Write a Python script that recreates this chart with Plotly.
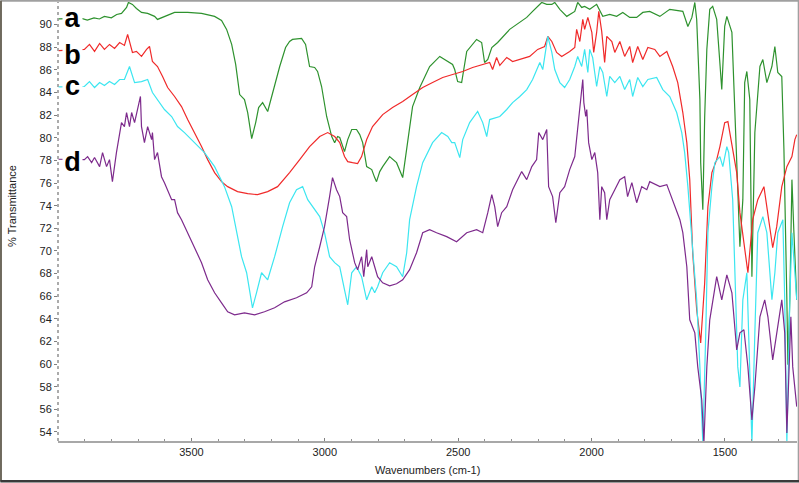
import plotly.graph_objects as go

# FT-IR spectra, (wavenumber cm-1, %T) pairs
spec_a = [(3998, 90.5), (3912, 90.55), (3890, 90.4), (3865, 90.6), (3845, 90.5), (3826, 90.73), (3800, 90.6),
          (3780, 90.9), (3762, 90.99), (3743, 91.52), (3736, 91.96), (3721, 91.79), (3706, 91.43), (3687, 91.08),
          (3664, 90.99), (3638, 90.73), (3627, 90.46), (3601, 90.73), (3563, 91.08), (3514, 91.08), (3462, 90.99),
          (3413, 90.73), (3387, 90.37), (3368, 89.58), (3349, 88.25), (3334, 86.48), (3319, 83.82), (3301, 83.38),
          (3289, 82.23), (3274, 79.93), (3259, 81.34), (3248, 82.67), (3233, 83.11), (3214, 82.32), (3188, 84.71),
          (3169, 86.30), (3147, 87.98), (3132, 88.51), (3121, 88.69), (3087, 88.78), (3072, 88.25), (3057, 86.30),
          (3038, 86.21), (3027, 85.86), (3012, 84.53), (2993, 81.88), (2974, 80.11), (2963, 79.57), (2952, 80.11),
          (2944, 80.02), (2926, 78.78), (2914, 79.84), (2899, 80.73), (2881, 80.73), (2869, 80.28), (2858, 79.57),
          (2843, 77.45), (2824, 77.19), (2813, 76.48), (2806, 76.12), (2794, 77.01), (2783, 77.45), (2757, 78.34),
          (2731, 77.80), (2708, 76.48), (2693, 78.96), (2671, 82.76), (2644, 84.44), (2607, 86.30), (2569, 87.19),
          (2539, 86.74), (2521, 86.48), (2513, 86.03), (2502, 84.97), (2487, 84.88), (2468, 87.63), (2431, 88.69),
          (2412, 88.42), (2401, 86.65), (2389, 86.92), (2374, 87.98), (2352, 88.42), (2307, 89.58), (2269, 90.19),
          (2243, 90.64), (2221, 91.17), (2202, 91.61), (2187, 91.96), (2168, 91.79), (2149, 91.79), (2138, 91.96),
          (2119, 91.35), (2093, 90.73), (2063, 91.17), (2052, 91.96), (2037, 91.52), (2026, 91.61), (2007, 91.35),
          (1981, 91.79), (1969, 91.17), (1958, 90.73), (1932, 90.90), (1906, 90.73), (1883, 91.08), (1857, 90.64),
          (1831, 90.64), (1808, 91.08), (1782, 91.17), (1744, 90.73), (1707, 91.35), (1658, 91.17), (1639, 89.84),
          (1624, 90.64), (1613, 91.96), (1606, 90.46), (1594, 83.38), (1591, 77.80), (1583, 73.65), (1576, 81.88),
          (1568, 87.81), (1557, 91.35), (1546, 91.61), (1531, 90.46), (1520, 86.92), (1512, 84.26), (1501, 89.84),
          (1493, 90.73), (1474, 89.31), (1456, 77.45), (1444, 70.37), (1433, 74.53), (1426, 84.88), (1418, 85.86),
          (1407, 83.38), (1399, 67.72), (1388, 80.46), (1369, 86.30), (1358, 86.92), (1343, 84.88), (1324, 86.30),
          (1313, 88.07), (1302, 85.77), (1287, 85.42), (1279, 78.96), (1268, 65.68), (1264, 59.93), (1257, 65.68),
          (1249, 76.30), (1242, 71.87), (1231, 65.68)]

spec_b = [(3998, 87.7), (3901, 87.81), (3882, 88.25), (3863, 87.63), (3844, 88.34), (3826, 87.81), (3807, 88.25),
          (3788, 87.89), (3769, 88.42), (3751, 88.16), (3739, 89.13), (3721, 87.54), (3706, 87.63), (3687, 87.19),
          (3668, 87.81), (3657, 88.07), (3646, 86.74), (3627, 86.30), (3608, 85.42), (3589, 84.44), (3563, 83.65),
          (3537, 82.76), (3514, 81.61), (3488, 80.46), (3462, 79.22), (3439, 78.07), (3413, 76.92), (3387, 76.12),
          (3364, 75.68), (3327, 75.24), (3289, 75.06), (3252, 74.97), (3214, 75.24), (3177, 75.68), (3132, 76.92),
          (3094, 78.07), (3057, 79.22), (3019, 80.11), (2989, 80.46), (2963, 80.11), (2944, 79.57), (2926, 78.34),
          (2914, 77.89), (2896, 77.80), (2877, 77.72), (2862, 78.34), (2843, 79.84), (2821, 80.99), (2783, 82.05),
          (2746, 82.67), (2708, 83.20), (2671, 83.82), (2633, 84.44), (2596, 84.88), (2558, 85.33), (2521, 85.59),
          (2483, 85.86), (2446, 86.21), (2408, 86.48), (2382, 86.65), (2371, 86.03), (2356, 87.10), (2344, 86.39),
          (2318, 87.10), (2296, 86.74), (2269, 86.92), (2232, 87.19), (2202, 87.81), (2176, 88.07), (2164, 88.96),
          (2149, 88.51), (2131, 87.54), (2112, 87.19), (2082, 87.63), (2063, 87.98), (2056, 89.58), (2044, 88.51),
          (2033, 90.46), (2026, 89.58), (2014, 90.64), (1999, 89.31), (1992, 87.54), (1981, 89.31), (1973, 91.17),
          (1962, 89.40), (1951, 86.65), (1943, 88.96), (1924, 88.51), (1913, 87.54), (1894, 88.51), (1876, 87.19),
          (1857, 88.07), (1846, 86.65), (1827, 88.07), (1808, 86.92), (1789, 87.98), (1763, 87.81), (1744, 87.19),
          (1718, 87.63), (1696, 86.30), (1677, 84.88), (1658, 82.23), (1643, 79.57), (1632, 76.30), (1621, 69.84),
          (1606, 64.80), (1591, 61.87), (1576, 67.18), (1564, 73.91), (1549, 76.92), (1531, 78.07), (1519, 79.22),
          (1501, 81.34), (1489, 81.43), (1474, 79.22), (1456, 76.92), (1444, 73.38), (1426, 70.37), (1414, 68.07),
          (1396, 72.76), (1377, 74.53), (1354, 75.68), (1339, 73.38), (1321, 70.28), (1306, 72.14), (1287, 75.68),
          (1268, 77.45), (1249, 78.34), (1238, 79.84), (1231, 80.28)]

spec_c = [(3998, 84.5), (3901, 84.53), (3882, 84.97), (3863, 84.44), (3844, 84.88), (3826, 84.62), (3807, 84.97),
          (3788, 84.71), (3769, 85.15), (3751, 85.15), (3732, 86.30), (3713, 84.88), (3687, 84.97), (3664, 85.15),
          (3646, 84.00), (3627, 83.38), (3601, 82.50), (3574, 81.88), (3552, 80.99), (3526, 80.46), (3488, 79.57),
          (3451, 78.69), (3413, 77.45), (3376, 75.68), (3349, 73.91), (3331, 71.61), (3312, 69.49), (3293, 68.07),
          (3282, 66.56), (3271, 64.97), (3256, 66.30), (3237, 68.07), (3214, 67.45), (3188, 69.49), (3158, 72.14),
          (3132, 74.26), (3106, 75.41), (3083, 75.68), (3064, 74.53), (3046, 73.91), (3019, 73.03), (3001, 71.61),
          (2982, 69.49), (2963, 68.96), (2944, 68.60), (2926, 66.56), (2914, 65.24), (2899, 68.07), (2881, 68.60),
          (2862, 67.72), (2851, 66.56), (2843, 65.68), (2824, 66.83), (2813, 66.30), (2802, 66.83), (2783, 68.07),
          (2757, 68.96), (2731, 68.60), (2708, 67.72), (2693, 69.84), (2682, 72.76), (2656, 75.68), (2633, 77.80),
          (2596, 79.57), (2562, 80.46), (2539, 80.11), (2524, 79.57), (2513, 79.57), (2494, 78.25), (2483, 79.84),
          (2457, 81.34), (2427, 82.32), (2408, 81.34), (2393, 80.11), (2382, 81.61), (2344, 81.88), (2318, 82.50),
          (2296, 83.11), (2269, 83.65), (2243, 84.26), (2221, 85.15), (2194, 86.65), (2183, 86.03), (2164, 88.96),
          (2149, 87.54), (2138, 86.03), (2119, 84.88), (2101, 84.44), (2082, 85.15), (2063, 86.30), (2052, 87.19),
          (2037, 86.30), (2026, 87.81), (2014, 85.77), (2007, 87.81), (1996, 87.10), (1981, 84.53), (1969, 86.30),
          (1958, 85.77), (1943, 83.65), (1932, 85.42), (1913, 84.88), (1894, 85.42), (1876, 84.26), (1857, 85.15),
          (1846, 83.65), (1827, 85.33), (1808, 84.53), (1789, 85.15), (1756, 85.33), (1733, 84.26), (1707, 83.65),
          (1681, 82.23), (1662, 80.46), (1651, 78.69), (1639, 75.68), (1621, 70.11), (1606, 65.68), (1594, 59.75),
          (1583, 53.0), (1572, 62.76), (1564, 71.61), (1549, 75.68), (1538, 77.80), (1519, 78.34), (1508, 77.45),
          (1493, 79.22), (1486, 78.69), (1471, 74.53), (1452, 59.75), (1444, 57.98), (1433, 65.68), (1418, 68.07),
          (1407, 59.75), (1399, 53.0), (1388, 62.76), (1377, 71.61), (1358, 73.03), (1343, 71.61), (1324, 65.68),
          (1313, 68.07), (1302, 71.61), (1283, 72.76), (1276, 65.68), (1268, 53.0), (1257, 65.68), (1249, 71.61),
          (1238, 68.07), (1231, 65.68)]

spec_d = [(3998, 78.1), (3901, 78.07), (3889, 78.34), (3874, 77.80), (3863, 78.25), (3844, 77.45), (3833, 78.69),
          (3818, 77.45), (3807, 78.07), (3796, 76.12), (3781, 78.69), (3762, 81.34), (3751, 80.99), (3743, 82.23),
          (3732, 80.99), (3724, 82.23), (3713, 81.34), (3702, 82.50), (3691, 83.65), (3687, 80.99), (3676, 79.57),
          (3664, 80.99), (3649, 79.84), (3646, 80.46), (3638, 78.07), (3627, 78.69), (3612, 76.56), (3601, 76.03),
          (3589, 75.41), (3574, 74.53), (3563, 74.53), (3552, 73.38), (3537, 72.76), (3514, 71.61), (3488, 70.37),
          (3462, 68.96), (3439, 67.45), (3413, 66.30), (3387, 65.41), (3364, 64.62), (3338, 64.35), (3301, 64.53),
          (3263, 64.35), (3226, 64.62), (3188, 64.97), (3151, 65.50), (3106, 65.86), (3068, 66.30), (3049, 66.83),
          (3038, 68.60), (3019, 70.37), (3001, 72.14), (2982, 74.80), (2971, 76.48), (2956, 75.41), (2944, 74.80),
          (2933, 73.38), (2918, 73.03), (2907, 71.01), (2888, 68.96), (2877, 68.34), (2862, 69.49), (2854, 67.72),
          (2843, 70.11), (2839, 68.60), (2824, 69.49), (2813, 68.60), (2802, 67.72), (2783, 67.18), (2757, 66.92),
          (2731, 67.10), (2708, 67.45), (2682, 68.34), (2656, 69.84), (2633, 71.61), (2607, 71.87), (2581, 71.61),
          (2543, 71.26), (2506, 70.81), (2468, 71.61), (2431, 71.87), (2408, 71.61), (2389, 73.38), (2374, 74.97),
          (2363, 73.91), (2352, 72.14), (2337, 73.38), (2318, 73.91), (2296, 75.41), (2277, 76.30), (2262, 77.01),
          (2243, 76.30), (2224, 77.45), (2206, 78.07), (2198, 80.46), (2183, 79.84), (2168, 80.73), (2161, 75.68),
          (2146, 74.80), (2134, 72.49), (2119, 75.15), (2101, 75.68), (2082, 77.19), (2063, 78.34), (2052, 80.73),
          (2044, 82.23), (2033, 85.15), (2029, 83.11), (2022, 81.88), (2018, 82.50), (2011, 79.57), (1999, 78.07),
          (1988, 78.69), (1977, 76.92), (1969, 72.76), (1962, 75.68), (1951, 75.15), (1943, 72.76), (1932, 74.53),
          (1913, 75.41), (1894, 76.30), (1876, 76.56), (1865, 74.80), (1849, 76.03), (1831, 74.26), (1812, 75.68),
          (1793, 75.41), (1782, 76.12), (1744, 75.68), (1718, 75.86), (1696, 74.53), (1669, 72.76), (1658, 71.61),
          (1643, 68.60), (1632, 63.91), (1613, 62.76), (1602, 59.75), (1587, 56.83), (1579, 53.0), (1568, 59.75),
          (1557, 63.91), (1546, 65.68), (1531, 67.72), (1512, 65.68), (1493, 67.89), (1474, 66.30), (1456, 61.25),
          (1444, 62.76), (1429, 63.03), (1414, 59.75), (1399, 55.06), (1388, 57.98), (1369, 64.18), (1351, 65.68),
          (1339, 64.18), (1321, 60.37), (1306, 62.76), (1287, 65.68), (1276, 62.76), (1268, 53.9), (1253, 64.18),
          (1246, 59.75), (1231, 56.24)]

labels = ["a", "b", "c", "d"]
label_y = [90.6, 87.3, 84.6, 77.9]
colors = ["#2e922e", "#f02a2a", "#3ce6f0", "#7d2a8c"]
xticks = [3500, 3000, 2500, 2000, 1500]
yticks = list(range(54, 91, 2))

fig = go.Figure()
for spec, col in zip([spec_a, spec_b, spec_c, spec_d], colors):
    fig.add_trace(go.Scatter(x=[p[0] for p in spec], y=[p[1] for p in spec],
                             mode="lines", line=dict(color=col, width=1.2),
                             showlegend=False, hoverinfo="skip"))

for lab, ly in zip(labels, label_y):
    fig.add_annotation(x=3947, y=ly, xref="x", yref="y", text="<b>%s</b>" % lab,
                       showarrow=False, font=dict(family="Liberation Sans", size=27, color="black"),
                       bgcolor="white", borderpad=0, width=19)

fig.update_xaxes(range=[4000, 1230], tickvals=xticks, showgrid=False, zeroline=False,
                 showline=True, linecolor="#a8a8a8", linewidth=2,
                 ticks="inside", ticklen=3, tickcolor="#808080",
                 minor=dict(dtick=100, tick0=0, ticks="inside", ticklen=2, tickcolor="#909090"),
                 tickfont=dict(family="Liberation Sans", size=11, color="#222222"))
fig.update_yaxes(range=[53.2, 92.0], tickvals=yticks, showgrid=False, zeroline=False,
                 showline=False, ticks="outside", ticklen=3, tickcolor="#808080",
                 tickfont=dict(family="Liberation Sans", size=11, color="#222222"))

# dotted y axis line and window frame
fig.add_shape(type="line", xref="paper", yref="paper", x0=0, x1=0, y0=0, y1=1,
              line=dict(color="#909090", width=1.5, dash="dot"))
fig.add_shape(type="line", xref="paper", yref="paper", x0=-0.078, x1=1.0027, y0=1.003, y1=1.003,
              line=dict(color="#a0a0a0", width=2))
fig.add_shape(type="line", xref="paper", yref="paper", x0=1.0023, x1=1.0023, y0=-0.09, y1=1.003,
              line=dict(color="#a0a0a0", width=2))
fig.add_shape(type="line", xref="paper", yref="paper", x0=-0.0775, x1=-0.0775, y0=-0.092, y1=1.003,
              line=dict(color="#6f6a5e", width=2.5))
fig.add_shape(type="line", xref="paper", yref="paper", x0=-0.078, x1=1.0027, y0=-0.0915, y1=-0.0915,
              line=dict(color="#3a3a3a", width=2.5))

fig.add_annotation(xref="paper", yref="paper", x=-0.0625, y=0.535, text="% Transmittance",
                   textangle=-90, showarrow=False, xanchor="center", yanchor="middle",
                   font=dict(family="Liberation Sans", size=11, color="#222222"))
fig.add_annotation(xref="paper", yref="paper", x=0.5, y=-0.066, text="Wavenumbers (cm-1)",
                   showarrow=False, xanchor="center", yanchor="middle",
                   font=dict(family="Liberation Sans", size=11, color="#222222"))

fig.update_layout(width=799, height=483, margin=dict(l=58, r=2, t=2, b=42),
                  plot_bgcolor="white", paper_bgcolor="white")

# page has a default 8px body margin, drop it so the figure sits at the window corner
fig.write_html("out.html", config={"displayModeBar": False},
               post_script="document.body.style.margin='0px';")
